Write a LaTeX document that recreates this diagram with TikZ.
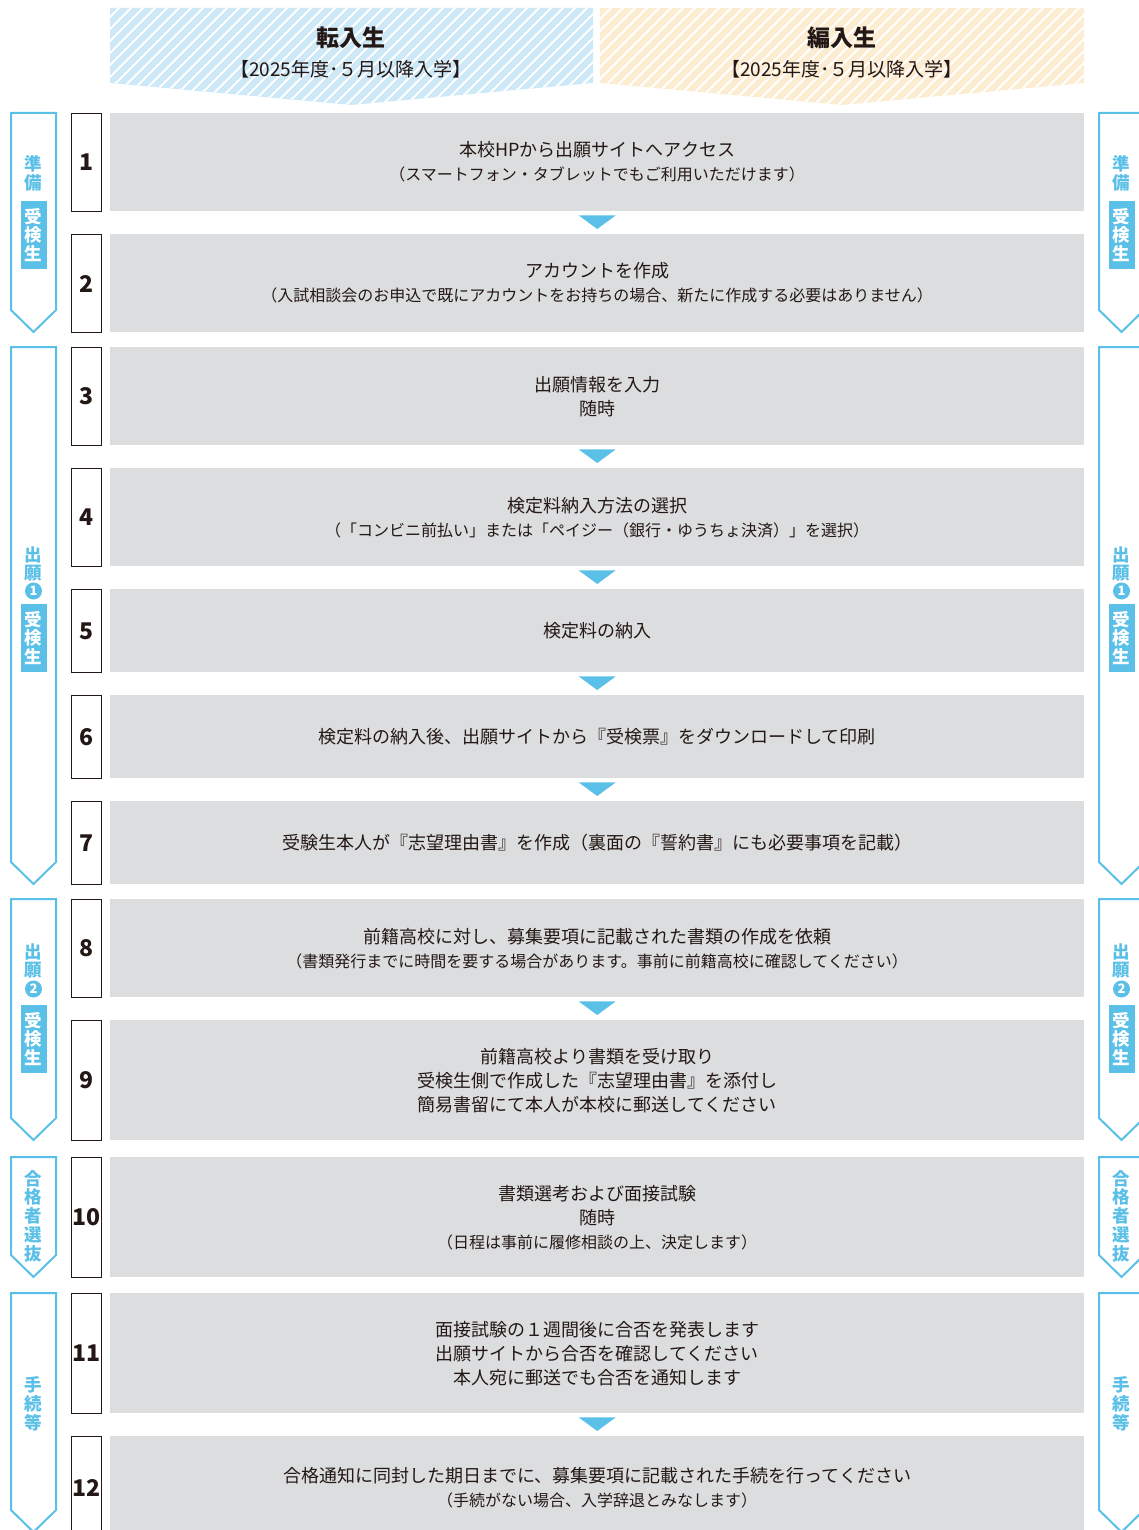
\documentclass[tikz,border=0pt]{standalone}
\usepackage{fontspec}
\newfontfamily\jp{Noto Sans CJK JP}
\usetikzlibrary{calc}
\definecolor{tabblue}{HTML}{5BC0E7}
\definecolor{headblue}{HTML}{CDE9F8}
\definecolor{headorange}{HTML}{FCEDD2}
\definecolor{boxgray}{HTML}{DCDDDE}
\definecolor{ink}{HTML}{231815}
\newcommand{\subtxt}[1]{{\fontsize{16}{24}\selectfont #1}}
% side tab: centre x, top, tip
\newcommand{\phasetab}[3]{\draw[tabline] ({#1-22.5},#2) -- ({#1+22.5},#2) -- ({#1+22.5},{#3-22}) -- (#1,#3) -- ({#1-22.5},{#3-22}) -- cycle;}
\tikzset{
    stepbox/.style={fill=boxgray,anchor=north west,minimum width=974pt,inner sep=0pt,align=center,text=ink,font=\jp\fontsize{18}{24}\selectfont},
    numbox/.style={draw=ink,line width=1.2pt,fill=white,anchor=north west,minimum width=30pt,inner sep=0pt,text=ink,font=\jp\bfseries\fontsize{23}{23}\selectfont},
    tabline/.style={draw=tabblue,line width=2pt,fill=white},
    tabtext/.style={text=tabblue,align=center,inner sep=0pt,font=\jp\bfseries\fontsize{17.5}{18.8}\selectfont},
    tabbadge/.style={tabtext,fill=tabblue,text=white,minimum width=26pt,minimum height=68pt},
    tabnum/.style={circle,fill=tabblue,text=white,minimum size=17pt,inner sep=0pt,font=\jp\bfseries\fontsize{13}{13}\selectfont},
    flow/.style={fill=tabblue},
    headtitle/.style={text=ink,font=\jp\bfseries\fontsize{23}{23}\selectfont},
    headsub/.style={text=ink,font=\jp\fontsize{19}{19}\selectfont},
}
\begin{document}
\begin{tikzpicture}[x=1pt,y=-1pt]
    \useasboundingbox (0,0) rectangle (1139,1530);
    \clip (0,0) rectangle (1139,1530);

    % header bands
    \begin{scope}
        \clip (110,8) -- (593,8) -- (593,83) -- (351,105) -- (110,83) -- cycle;
        \fill[headblue] (100,0) rectangle (600,110);
        \foreach \i in {-24,-12,...,600} \draw[white,line width=2pt] (\i,115) -- ++(120,-120);
    \end{scope}
    \begin{scope}
        \clip (600,8) -- (1084,8) -- (1084,83) -- (842,105) -- (600,83) -- cycle;
        \fill[headorange] (590,0) rectangle (1090,110);
        \foreach \i in {480,492,...,1092} \draw[white,line width=2pt] (\i,115) -- ++(120,-120);
    \end{scope}
    \node[headtitle] (tenT) at (351,38) {転入生};
    \node[headsub] (tenS) at (351,69) {【2025年度･５月以降入学】};
    \node[headtitle] (henT) at (842,38) {編入生};
    \node[headsub] (henS) at (842,69) {【2025年度･５月以降入学】};

    % side tabs
    \foreach \cx in {33.5,1121.5}{
        \phasetab{\cx}{113}{332}
        \phasetab{\cx}{347}{884}
        \phasetab{\cx}{899}{1140}
        \phasetab{\cx}{1157}{1277}
        \phasetab{\cx}{1293}{1532}
        \node[tabtext] at (\cx,173) {準\\備};
        \node[tabbadge] at (\cx,235) {受\\検\\生};
        \node[tabtext] at (\cx,564) {出\\願};
        \node[tabnum] at (\cx,591) {1};
        \node[tabbadge] at (\cx,638) {受\\検\\生};
        \node[tabtext] at (\cx,961) {出\\願};
        \node[tabnum] at (\cx,989) {2};
        \node[tabbadge] at (\cx,1039) {受\\検\\生};
        \node[tabtext] at (\cx,1216) {合\\格\\者\\選\\抜};
        \node[tabtext] at (\cx,1404) {手\\続\\等};
    }

    % steps
    \node[stepbox,minimum height=98pt] (s1) at (110,113) {本校HPから出願サイトへアクセス\\\subtxt{（スマートフォン・タブレットでもご利用いただけます）}};
    \node[stepbox,minimum height=98pt] (s2) at (110,234) {アカウントを作成\\\subtxt{（入試相談会のお申込で既にアカウントをお持ちの場合、新たに作成する必要はありません）}};
    \node[stepbox,minimum height=98pt] (s3) at (110,347) {出願情報を入力\\随時};
    \node[stepbox,minimum height=98pt] (s4) at (110,468) {検定料納入方法の選択\\\subtxt{（「コンビニ前払い」または「ペイジー（銀行・ゆうちょ決済）」を選択）}};
    \node[stepbox,minimum height=83pt] (s5) at (110,589) {検定料の納入};
    \node[stepbox,minimum height=83pt] (s6) at (110,695) {検定料の納入後、出願サイトから『受検票』をダウンロードして印刷};
    \node[stepbox,minimum height=83pt] (s7) at (110,801) {受験生本人が『志望理由書』を作成（裏面の『誓約書』にも必要事項を記載）};
    \node[stepbox,minimum height=98pt] (s8) at (110,899) {前籍高校に対し、募集要項に記載された書類の作成を依頼\\\subtxt{（書類発行までに時間を要する場合があります。事前に前籍高校に確認してください）}};
    \node[stepbox,minimum height=120pt] (s9) at (110,1020) {前籍高校より書類を受け取り\\受検生側で作成した『志望理由書』を添付し\\簡易書留にて本人が本校に郵送してください};
    \node[stepbox,minimum height=120pt] (s10) at (110,1157) {書類選考および面接試験\\随時\\\subtxt{（日程は事前に履修相談の上、決定します）}};
    \node[stepbox,minimum height=120pt] (s11) at (110,1293) {面接試験の１週間後に合否を発表します\\出願サイトから合否を確認してください\\本人宛に郵送でも合否を通知します};
    \node[stepbox,minimum height=102pt] (s12) at (110,1436) {合格通知に同封した期日までに、募集要項に記載された手続を行ってください\\\subtxt{（手続がない場合、入学辞退とみなします）}};

    % step numbers
    \foreach \k/\top/\h in {1/113/98,2/234/98,3/347/98,4/468/98,5/589/83,6/695/83,7/801/83,8/899/98,9/1020/120,10/1157/120,11/1293/120,12/1436/102}
        \node[numbox,minimum height=\h pt] (n\k) at (71,\top) {\k};

    % flow marks
    \foreach \a/\b in {1/2,3/4,4/5,5/6,6/7,8/9,11/12}
        \fill[flow] ($(s\a.south)+(-18.5,4)$) -- ($(s\a.south)+(18.5,4)$) -- ($(s\b.north)+(0,-5)$) -- cycle;
\end{tikzpicture}
\end{document}
